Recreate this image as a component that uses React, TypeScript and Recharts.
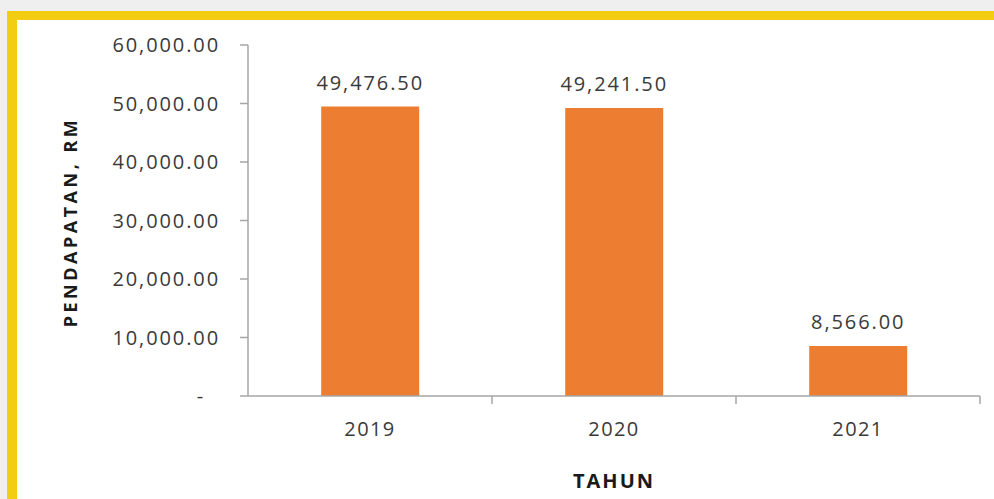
import React from 'react';
import { BarChart, Bar, XAxis, YAxis, LabelList } from 'recharts';

const years = ['2019', '2020', '2021'];
const pendapatan = [49476.5, 49241.5, 8566.0];
const yTicks = [0, 10000, 20000, 30000, 40000, 50000, 60000];

const data = years.map((tahun, i) => ({ tahun, value: pendapatan[i] }));

const fmt = (v: number) =>
  v.toLocaleString('en-US', { minimumFractionDigits: 2, maximumFractionDigits: 2 });

const FONT = '"Open Sans", sans-serif';
const TEXT = '#3a3a3a';
const AXIS = '#a6a6a6';
const BAND = 732 / 3; // width of one category on the x axis

const YTick = (props: any) => {
  const { x, y, payload } = props;
  const zero = payload.value === 0;
  return (
    <text
      x={x}
      y={y}
      dx={zero ? -15 : 0}
      dy="0.36em"
      textAnchor="end"
      fill={TEXT}
      fontFamily={FONT}
      fontSize={20}
      letterSpacing={1.9}
    >
      {zero ? '-' : fmt(payload.value)}
    </text>
  );
};

const XTick = (props: any) => {
  const { x, y, payload } = props;
  const axisY = y - 26;
  return (
    <g>
      <line x1={x + BAND / 2} y1={axisY} x2={x + BAND / 2} y2={axisY + 8} stroke={AXIS} strokeWidth={1.5} />
      <text
        x={x}
        y={y}
        dy="0.71em"
        textAnchor="middle"
        fill={TEXT}
        fontFamily={FONT}
        fontSize={20}
        letterSpacing={1.4}
      >
        {payload.value}
      </text>
    </g>
  );
};

const YTitle = () => (
  <text
    x={77}
    y={222}
    transform="rotate(-90 77 222)"
    textAnchor="middle"
    fill="#1a1a1a"
    fontFamily={FONT}
    fontWeight="bold"
    fontSize={18}
    letterSpacing={3.5}
  >
    PENDAPATAN, RM
  </text>
);

const XTitle = (props: any) => {
  const { viewBox } = props;
  const cx = viewBox.x + viewBox.width / 2;
  return (
    <text
      x={cx}
      y={488}
      textAnchor="middle"
      fill="#1a1a1a"
      fontFamily={FONT}
      fontWeight="bold"
      fontSize={20}
      letterSpacing={2}
    >
      TAHUN
    </text>
  );
};

export default function App() {
  return (
    <div style={{ position: 'absolute', top: 0, left: 0, width: 994, height: 499, background: '#efefef', overflow: 'hidden' }}>
      <div
        style={{
          position: 'absolute',
          top: 11,
          left: 7,
          right: 0,
          bottom: 0,
          background: '#ffffff',
          borderTop: '9px solid #f2cd12',
          borderLeft: '10px solid #f2cd12',
        }}
      />
      <div style={{ position: 'absolute', top: 0, left: 0 }}>
        <BarChart
          width={994}
          height={499}
          data={data}
          margin={{ top: 45, right: 14, bottom: 0, left: 0 }}
          barCategoryGap="30%"
        >
          <XAxis
            dataKey="tahun"
            height={103}
            axisLine={{ stroke: AXIS, strokeWidth: 1.5 }}
            tickLine={false}
            tickSize={8}
            tickMargin={18}
            tick={<XTick />}
            label={<XTitle />}
          />
          <YAxis
            width={248}
            domain={[0, 60000]}
            ticks={yTicks}
            interval={0}
            axisLine={{ stroke: AXIS, strokeWidth: 1.5 }}
            tickLine={{ stroke: AXIS, strokeWidth: 1.5 }}
            tickSize={8}
            tickMargin={20}
            tick={<YTick />}
            label={<YTitle />}
          />
          <Bar dataKey="value" fill="#ed7d31" isAnimationActive={false}>
            <LabelList
              dataKey="value"
              position="top"
              offset={17}
              formatter={(v: any) => fmt(Number(v))}
              fill={TEXT}
              fontFamily={FONT}
              fontSize={20}
              letterSpacing={1.9}
            />
          </Bar>
        </BarChart>
      </div>
    </div>
  );
}
